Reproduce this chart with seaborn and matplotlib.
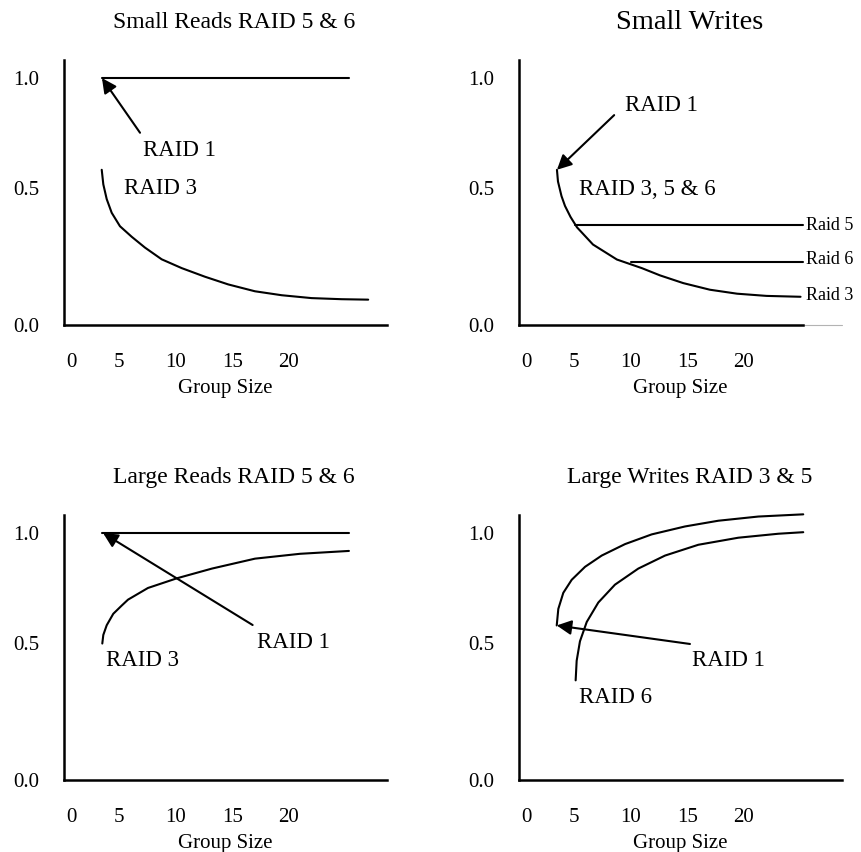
import matplotlib
matplotlib.use("Agg")
import matplotlib.pyplot as plt
import seaborn as sns

sns.set_style("white")
plt.rcParams["font.family"] = ["Liberation Serif", "DejaVu Serif"]
plt.rcParams["text.color"] = "black"
plt.rcParams["axes.labelcolor"] = "black"
plt.rcParams["xtick.color"] = "black"
plt.rcParams["ytick.color"] = "black"

# ---- values (x = group size, y = relative performance) ----
xtick_pos = [0.8, 5, 10, 15, 20]
xtick_labels = ["0", "5", "10", "15", "20"]
ytick_pos = [-0.12, 0.5, 1.0]
ytick_labels = ["0.0", "0.5", "1.0"]

# Small reads
sr_raid1_x = [3.5, 25.3]
sr_raid1_y = [1.0, 1.0]
sr_raid3_x = [3.48, 3.62, 3.92, 4.36, 5.09, 6.13, 7.30, 8.77, 10.54, 12.59,
              14.65, 17.0, 19.37, 22.0, 24.66, 27.0]
sr_raid3_y = [0.584, 0.518, 0.451, 0.389, 0.328, 0.280, 0.231, 0.178, 0.138, 0.099,
              0.064, 0.033, 0.015, 0.002, -0.003, -0.005]

# Small writes
sw_raid3_x = [3.50, 3.59, 3.90, 4.21, 4.70, 5.27, 6.68, 8.79, 10.99, 12.6,
              14.65, 17.0, 19.4, 22.0, 25.0]
sw_raid3_y = [0.584, 0.531, 0.465, 0.420, 0.370, 0.323, 0.245, 0.177, 0.138, 0.105,
              0.070, 0.040, 0.022, 0.012, 0.008]
sw_raid5_x = [5.1, 25.2]
sw_raid5_y = [0.332, 0.332]
sw_raid6_x = [10.0, 25.2]
sw_raid6_y = [0.164, 0.164]

# Large reads
lr_raid1_x = [3.5, 25.3]
lr_raid1_y = [1.0, 1.0]
lr_raid3_x = [3.53, 3.62, 3.92, 4.50, 5.24, 5.80, 7.56, 10.12, 13.21, 17.01, 20.98, 25.30]
lr_raid3_y = [0.499, 0.538, 0.582, 0.634, 0.671, 0.698, 0.751, 0.795, 0.839, 0.884, 0.906, 0.919]

# Large writes
lw_raid35_x = [3.48, 3.62, 4.06, 4.80, 5.98, 7.45, 9.51, 11.86, 14.80, 17.74, 21.27, 25.24]
lw_raid35_y = [0.581, 0.656, 0.729, 0.788, 0.847, 0.898, 0.950, 0.994, 1.030, 1.056, 1.075, 1.085]
lw_raid6_x = [5.15, 5.24, 5.53, 6.13, 7.15, 8.62, 10.68, 13.04, 15.98, 19.51, 23.04, 25.24]
lw_raid6_y = [0.332, 0.421, 0.509, 0.597, 0.685, 0.766, 0.839, 0.898, 0.947, 0.979, 0.997, 1.004]

titles = ["Small Reads RAID 5 & 6", "Small Writes",
          "Large Reads RAID 5 & 6", "Large Writes RAID 3 & 5"]

XLIM = (0.15, 28.66)
YLIM = (-0.086, 1.082)
LW = 1.5

fig = plt.figure(figsize=(8.62, 8.52), dpi=100)
W, H = 862, 852
boxes = [(64, 60), (519, 60), (64, 515), (519, 515)]
axes = []
for (left, top) in boxes:
    ax = fig.add_axes([left / W, 1 - (top + 265) / H, 323 / W, 265 / H])
    axes.append(ax)


def style(ax, title, tsize):
    ax.set_xlim(*XLIM)
    ax.set_ylim(*YLIM)
    ax.set_xticks(xtick_pos)
    ax.set_xticklabels(xtick_labels)
    ax.set_yticks(ytick_pos)
    ax.set_yticklabels(ytick_labels)
    ax.tick_params(length=0, labelsize=15)
    ax.tick_params(axis="x", pad=20)
    ax.tick_params(axis="y", pad=18)
    ax.set_xlabel("Group Size", fontsize=15, labelpad=5.5)
    ax.set_ylabel("")
    sns.despine(ax=ax)
    for s in ("left", "bottom"):
        ax.spines[s].set_linewidth(1.8)
        ax.spines[s].set_color("black")
    ax.set_title(title, x=0.527, y=1.143, pad=0, fontsize=tsize, va="center")


def line(ax, x, y):
    sns.lineplot(x=x, y=y, ax=ax, color="black", linewidth=LW, sort=False,
                 estimator=None, clip_on=False)


def arrow(ax, tail, tip):
    ax.annotate("", xy=tip, xytext=tail,
                arrowprops=dict(arrowstyle="-|>", color="black", lw=LW,
                                mutation_scale=22, shrinkA=0, shrinkB=0))


# Small reads
ax = axes[0]
line(ax, sr_raid1_x, sr_raid1_y)
line(ax, sr_raid3_x, sr_raid3_y)
arrow(ax, (6.86, 0.752), (3.5, 1.0))
ax.text(7.1, 0.673, "RAID 1", fontsize=16.5, va="center")
ax.text(5.45, 0.5, "RAID 3", fontsize=16.5, va="center")
style(ax, titles[0], 17)

# Small writes
ax = axes[1]
line(ax, sw_raid3_x, sw_raid3_y)
line(ax, sw_raid5_x, sw_raid5_y)
line(ax, sw_raid6_x, sw_raid6_y)
arrow(ax, (8.55, 0.832), (3.5, 0.584))
ax.text(9.5, 0.876, "RAID 1", fontsize=16.5, va="center")
ax.text(5.45, 0.496, "RAID 3, 5 & 6", fontsize=16.5, va="center")
for yy, lab in [(0.332, "Raid 5"), (0.175, "Raid 6"), (0.012, "Raid 3")]:
    ax.text(25.45, yy, lab, fontsize=13, va="center", clip_on=False)
style(ax, titles[1], 20.5)
ax.spines["bottom"].set_bounds(XLIM[0], 25.2)
ax.plot([25.2, XLIM[1]], [0, 0], color="0.7", lw=0.8, clip_on=False,
        transform=ax.get_xaxis_transform())

# Large reads
ax = axes[2]
line(ax, lr_raid1_x, lr_raid1_y)
line(ax, lr_raid3_x, lr_raid3_y)
arrow(ax, (16.8, 0.583), (3.6, 1.0))
ax.text(17.2, 0.504, "RAID 1", fontsize=16.5, va="center")
ax.text(3.85, 0.421, "RAID 3", fontsize=16.5, va="center")
style(ax, titles[2], 17)

# Large writes
ax = axes[3]
line(ax, lw_raid35_x, lw_raid35_y)
line(ax, lw_raid6_x, lw_raid6_y)
arrow(ax, (15.24, 0.497), (3.48, 0.581))
ax.text(15.4, 0.421, "RAID 1", fontsize=16.5, va="center")
ax.text(5.45, 0.254, "RAID 6", fontsize=16.5, va="center")
style(ax, titles[3], 17)

fig.savefig("out.png", dpi=100)
